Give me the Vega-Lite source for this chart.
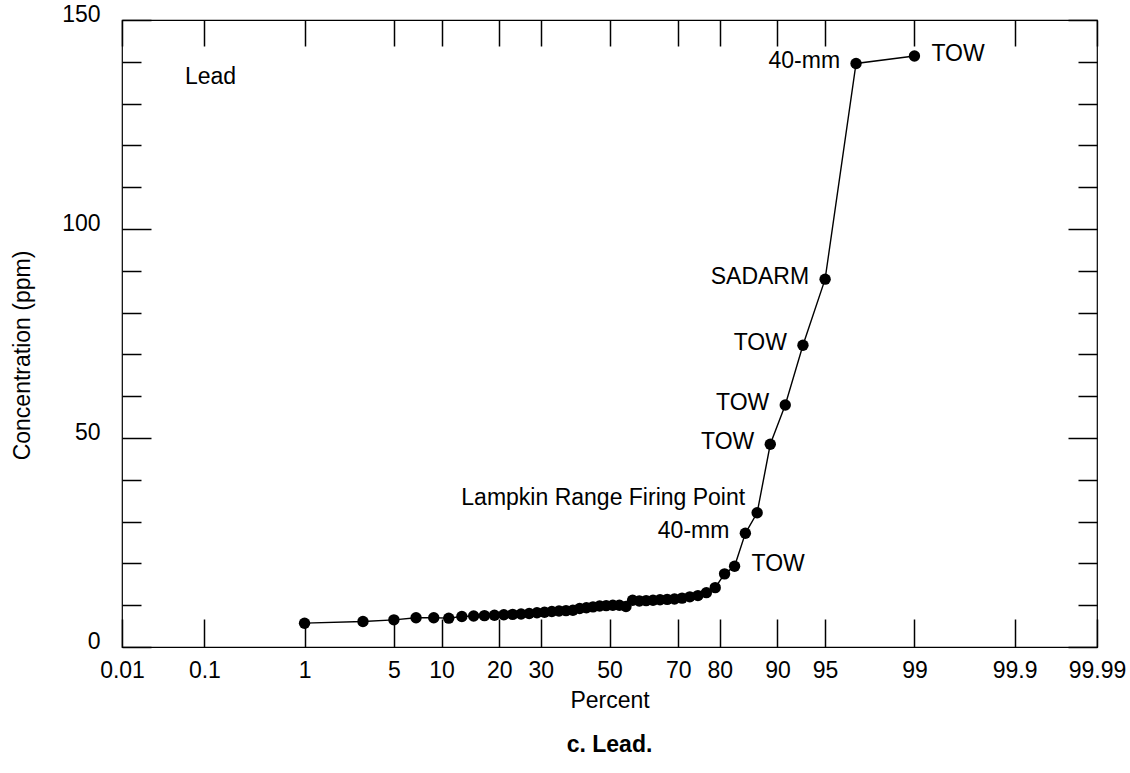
{
  "$schema": "https://vega.github.io/schema/vega-lite/v6.json",
  "width": 975,
  "height": 627,
  "autosize": "none",
  "padding": {"left": 122, "top": 20, "right": 33, "bottom": 126},
  "background": "white",
  "config": {
    "view": {"stroke": "#000", "strokeWidth": 1.2},
    "font": "Liberation Sans",
    "axis": {"domain": false, "grid": false, "tickColor": "#000", "tickWidth": 1.5, "labelColor": "#000", "labelFontSize": 23, "labelFont": "Liberation Sans", "titleFont": "Liberation Sans", "titleFontSize": 23, "titleFontWeight": "normal", "titleColor": "#000"}
  },
  "title": {"text": "c. Lead.", "orient": "bottom", "anchor": "middle", "fontSize": 23, "fontWeight": "bold", "font": "Liberation Sans", "color": "#000", "offset": 22},
  "datasets": {
    "lead": [
      {"percent": 1, "value": 5.7},
      {"percent": 3, "value": 6.1},
      {"percent": 5, "value": 6.5},
      {"percent": 7, "value": 7.0},
      {"percent": 9, "value": 7.0},
      {"percent": 11, "value": 6.9},
      {"percent": 13, "value": 7.3},
      {"percent": 15, "value": 7.4},
      {"percent": 17, "value": 7.5},
      {"percent": 19, "value": 7.6},
      {"percent": 21, "value": 7.7},
      {"percent": 23, "value": 7.8},
      {"percent": 25, "value": 7.9},
      {"percent": 27, "value": 8.0},
      {"percent": 29, "value": 8.2},
      {"percent": 31, "value": 8.3},
      {"percent": 33, "value": 8.5},
      {"percent": 35, "value": 8.6},
      {"percent": 37, "value": 8.7},
      {"percent": 39, "value": 8.8},
      {"percent": 41, "value": 9.2},
      {"percent": 43, "value": 9.4},
      {"percent": 45, "value": 9.6},
      {"percent": 47, "value": 9.8},
      {"percent": 49, "value": 9.9},
      {"percent": 51, "value": 10.0},
      {"percent": 53, "value": 10.0},
      {"percent": 55, "value": 9.7},
      {"percent": 57, "value": 11.2},
      {"percent": 59, "value": 11.0},
      {"percent": 61, "value": 11.1},
      {"percent": 63, "value": 11.2},
      {"percent": 65, "value": 11.3},
      {"percent": 67, "value": 11.4},
      {"percent": 69, "value": 11.5},
      {"percent": 71, "value": 11.7},
      {"percent": 73, "value": 12.0},
      {"percent": 75, "value": 12.3},
      {"percent": 77, "value": 13.0},
      {"percent": 79, "value": 14.2},
      {"percent": 81, "value": 17.5},
      {"percent": 83, "value": 19.3, "label": "TOW"},
      {"percent": 85, "value": 27.2, "label": "40-mm"},
      {"percent": 87, "value": 32.1, "label": "Lampkin Range Firing Point"},
      {"percent": 89, "value": 48.5, "label": "TOW"},
      {"percent": 91, "value": 57.9, "label": "TOW"},
      {"percent": 93, "value": 72.2, "label": "TOW"},
      {"percent": 95, "value": 88.0, "label": "SADARM"},
      {"percent": 97, "value": 139.6, "label": "40-mm"},
      {"percent": 99, "value": 141.4, "label": "TOW"}
    ],
    "note": [{"percent": 0.06, "value": 136.4, "label": "Lead"}]
  },
  "data": {"name": "lead"},
  "transform": [{"calculate": "quantileNormal(datum.percent / 100)", "as": "z"}],
  "resolve": {"axis": {"x": "independent", "y": "independent"}},
  "layer": [
    {
      "mark": {"type": "line", "color": "#000", "strokeWidth": 1.4},
      "encoding": {
        "x": {"field": "z", "type": "quantitative",
          "scale": {"domain": [-3.719016, 3.719016], "nice": false, "zero": false},
          "axis": {"orient": "bottom", "title": "Percent", "titleY": 53, "titleBaseline": "middle",
            "values": [-3.719016, -3.090232, -2.326348, -1.644854, -1.281552, -0.841621, -0.524401, 0, 0.524401, 0.841621, 1.281552, 1.644854, 2.326348, 3.090232, 3.719016],
            "labelExpr": "format(cumulativeNormal(datum.value) * 100, '.4~r')",
            "tickSize": -28, "labelPadding": 40, "labelFlush": false, "labelOverlap": false}},
        "y": {"field": "value", "type": "quantitative",
          "scale": {"domain": [0, 150], "nice": false},
          "axis": {"orient": "left", "title": "Concentration (ppm)",
            "values": [0, 10, 20, 30, 40, 50, 60, 70, 80, 90, 100, 110, 120, 130, 140, 150],
            "labelExpr": "datum.value % 50 === 0 ? datum.label : ''",
            "tickSize": {"condition": {"test": "datum.value % 50 === 0", "value": -29}, "value": -19},
            "labelPadding": 51, "labelOffset": -6, "labelFlush": false, "labelOverlap": false,
            "titleX": -100, "titleY": 335, "titleBaseline": "middle", "titleAlign": "center", "titleAngle": 270}}
      }
    },
    {
      "mark": {"type": "point", "filled": true, "color": "#000", "opacity": 1, "size": 130},
      "encoding": {
        "x": {"field": "z", "type": "quantitative",
          "axis": {"orient": "top", "title": null, "labels": false, "tickSize": -26,
            "values": [-3.719016, -3.090232, -2.326348, -1.644854, -1.281552, -0.841621, -0.524401, 0, 0.524401, 0.841621, 1.281552, 1.644854, 2.326348, 3.090232, 3.719016]}},
        "y": {"field": "value", "type": "quantitative",
          "axis": {"orient": "right", "title": null, "labels": false,
            "values": [0, 10, 20, 30, 40, 50, 60, 70, 80, 90, 100, 110, 120, 130, 140, 150],
            "tickSize": {"condition": {"test": "datum.value % 50 === 0", "value": -29}, "value": -19}}}
      }
    },
    {
      "transform": [{"filter": "datum.label && datum.percent !== 99 && datum.percent !== 83 && datum.percent !== 87"}],
      "mark": {"type": "text", "align": "right", "baseline": "middle", "dx": -16, "dy": -2, "fontSize": 23, "font": "Liberation Sans", "color": "#000"},
      "encoding": {
        "x": {"field": "z", "type": "quantitative", "axis": null},
        "y": {"field": "value", "type": "quantitative", "axis": null},
        "text": {"field": "label"}
      }
    },
    {
      "transform": [{"filter": "datum.percent === 99 || datum.percent === 83"}],
      "mark": {"type": "text", "align": "left", "baseline": "middle", "dx": 17, "dy": -2, "fontSize": 23, "font": "Liberation Sans", "color": "#000"},
      "encoding": {
        "x": {"field": "z", "type": "quantitative", "axis": null},
        "y": {"field": "value", "type": "quantitative", "axis": null},
        "text": {"field": "label"}
      }
    },
    {
      "transform": [{"filter": "datum.percent === 87"}],
      "mark": {"type": "text", "align": "right", "baseline": "middle", "dx": -12, "dy": -15, "fontSize": 23, "font": "Liberation Sans", "color": "#000"},
      "encoding": {
        "x": {"field": "z", "type": "quantitative", "axis": null},
        "y": {"field": "value", "type": "quantitative", "axis": null},
        "text": {"field": "label"}
      }
    },
    {
      "data": {"name": "note"},
      "transform": [{"calculate": "quantileNormal(datum.percent / 100)", "as": "z"}],
      "mark": {"type": "text", "align": "left", "baseline": "middle", "fontSize": 23, "font": "Liberation Sans", "color": "#000"},
      "encoding": {
        "x": {"field": "z", "type": "quantitative", "axis": null},
        "y": {"field": "value", "type": "quantitative", "axis": null},
        "text": {"field": "label"}
      }
    }
  ]
}
